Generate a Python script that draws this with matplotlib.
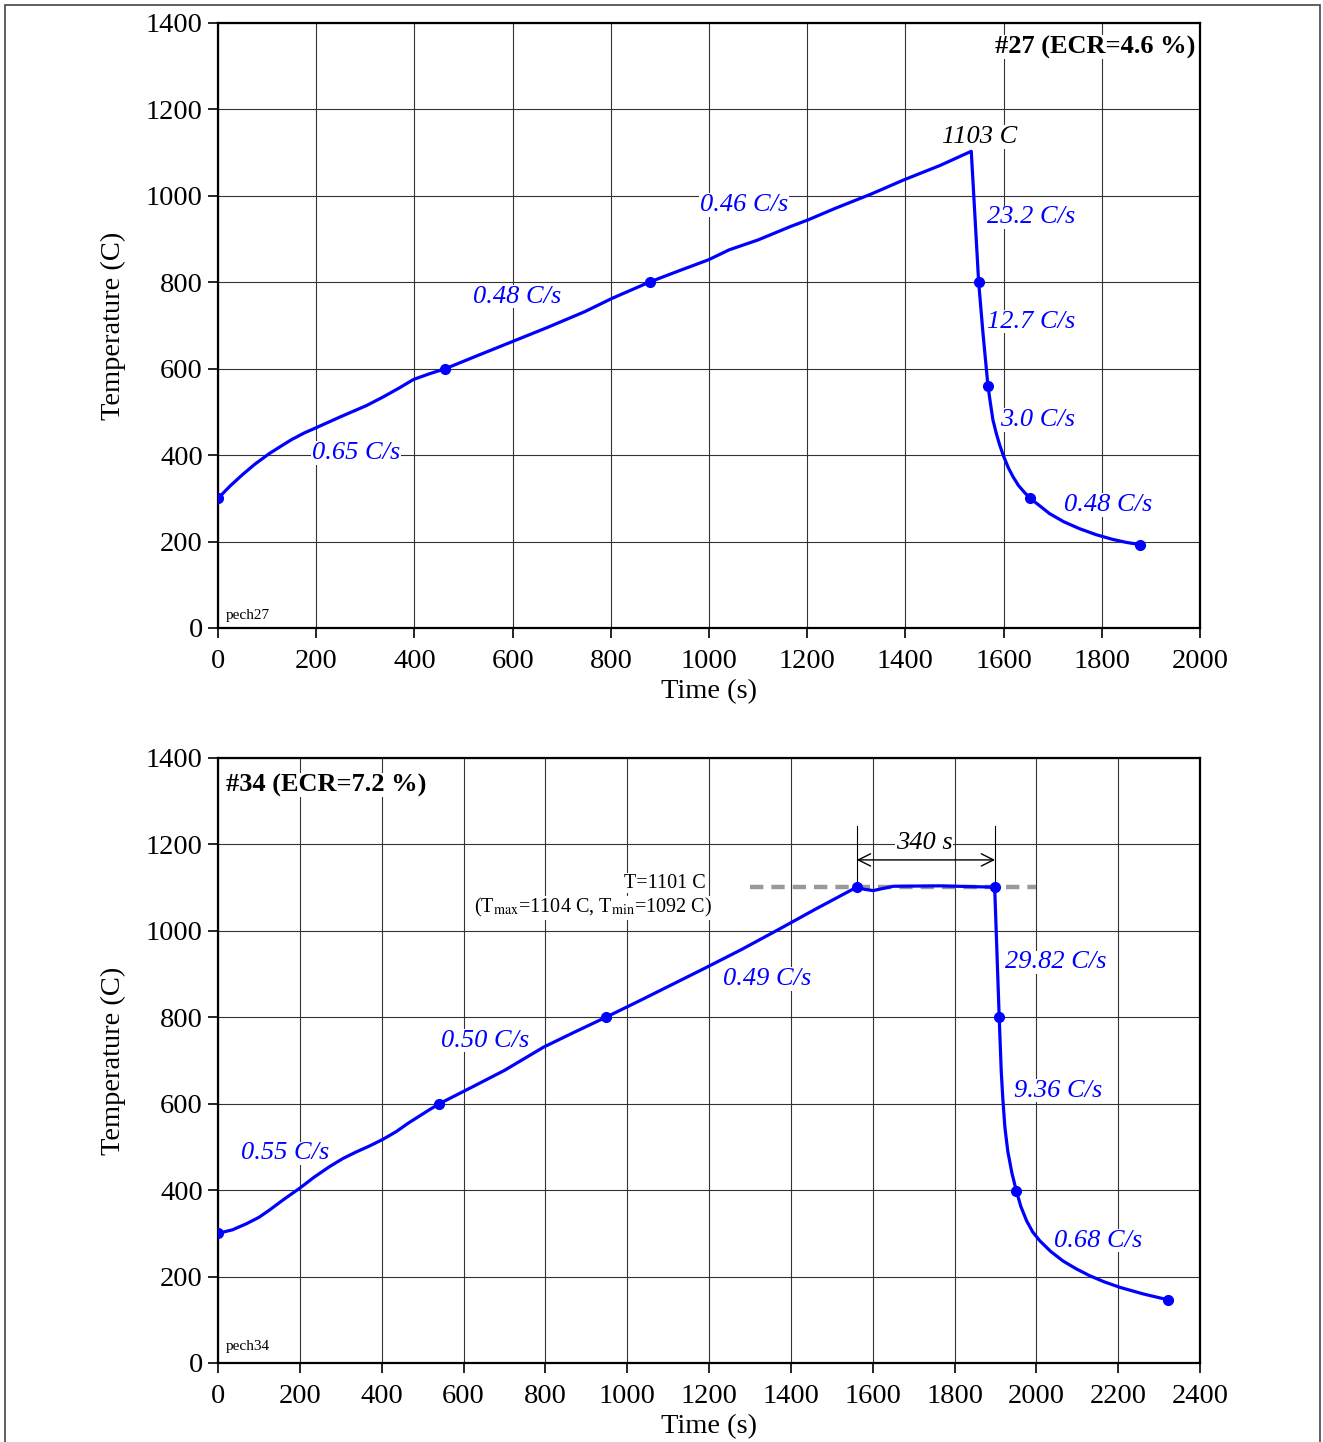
import matplotlib
matplotlib.use("Agg")
import matplotlib.pyplot as plt
from matplotlib.patches import Rectangle

plt.rcParams['font.family'] = ['Liberation Serif', 'DejaVu Serif']
plt.rcParams['mathtext.fontset'] = 'stix'

BLUE = '#0000ff'

# ---- test #27 ----
top_t = [0, 25, 50, 75, 105, 130, 150, 175, 201, 250, 303, 337, 370, 398, 430, 463,
         530, 600, 670, 747, 803, 880, 940, 999, 1041, 1100, 1166, 1201, 1257, 1330,
         1397, 1470, 1534, 1549, 1558, 1568, 1573, 1578, 1585, 1592, 1599, 1609, 1619,
         1630, 1642, 1654, 1672, 1693, 1722, 1754, 1788, 1822, 1850, 1877]
top_T = [300, 329, 355, 379, 404, 422, 436, 451, 464, 489, 515, 535, 556, 575, 588, 600,
         631, 663, 695, 732, 763, 801, 827, 852, 875, 898, 929, 944, 971, 1004,
         1037, 1070, 1103, 801, 680, 560, 520, 482, 450, 423, 400, 372, 350,
         330, 314, 300, 284, 265, 246, 230, 216, 205, 198, 193]
top_mark_t = [0, 463, 880, 1549, 1568, 1654, 1877]
top_mark_T = [300, 600, 800, 800, 560, 300, 193]
top_labels = ['0.65 C/s', '0.48 C/s', '0.46 C/s', '23.2 C/s', '12.7 C/s', '3.0 C/s', '0.48 C/s']
top_label_t = [281, 610, 1072, 1656, 1656, 1668, 1813]
top_label_T = [405, 767, 979, 950, 709, 481, 284]

# ---- test #34 ----
bot_t = [0, 35, 69, 100, 126, 160, 199, 235, 272, 305, 337, 370, 402, 435, 465, 490,
         515, 541, 620, 700, 796, 870, 948, 1030, 1121, 1195, 1280, 1366, 1460, 1561,
         1580, 1601, 1650, 1764, 1850, 1898, 1909, 1914, 1918, 1923, 1930, 1940, 1951,
         1962, 1976, 1991, 2008, 2035, 2065, 2097, 2130, 2165, 2204, 2260, 2322]
bot_T = [300, 308, 322, 337, 354, 378, 404, 430, 454, 473, 488, 502, 517, 535, 555, 570,
         585, 600, 638, 677, 731, 765, 800, 838, 881, 916, 957, 1001, 1050, 1101,
         1096, 1093, 1103, 1104, 1102, 1101, 801, 676, 610, 545, 490, 440, 398,
         362, 329, 303, 283, 258, 236, 218, 202, 188, 175, 160, 146]
bot_mark_t = [0, 541, 948, 1561, 1898, 1909, 1951, 2322]
bot_mark_T = [300, 600, 800, 1101, 1101, 801, 398, 146]
bot_labels = ['0.55 C/s', '0.50 C/s', '0.49 C/s', '29.82 C/s', '9.36 C/s', '0.68 C/s']
bot_label_t = [163, 653, 1341, 2047, 2053, 2151]
bot_label_T = [485, 746, 889, 927, 630, 283]
hold_t = [1300, 2000]
hold_T = [1101, 1101]
hold_start, hold_end = 1561, 1899

fig = plt.figure(figsize=(13.23, 14.42), dpi=100)
fig.patches.append(Rectangle((5 / 1323, -0.01), 1315 / 1323, 1 - 5 / 1442 + 0.01,
                             transform=fig.transFigure, fill=False,
                             edgecolor='#444444', lw=1.2))

ax1 = fig.add_axes([0.1648, 0.5645, 0.7423, 0.4196])
ax2 = fig.add_axes([0.1648, 0.0548, 0.7423, 0.4196])


def style(ax, xmax):
    ax.set_xlim(0, xmax)
    ax.set_ylim(0, 1400)
    ax.set_xticks(range(0, xmax + 1, 200))
    ax.set_yticks(range(0, 1401, 200))
    ax.grid(True, color='#333333', lw=0.8)
    ax.set_axisbelow(True)
    for s in ax.spines.values():
        s.set_linewidth(1.6)
    ax.tick_params(direction='out', length=7, width=1.2, labelsize=20.5, pad=4)
    ax.tick_params(axis='x', pad=8)
    ax.set_xlabel('Time (s)', fontsize=20.5, labelpad=4)
    ax.set_ylabel('Temperature (C)', fontsize=20.5, labelpad=14)


def rate_labels(ax, labels, ts, Ts):
    for lab, t, T in zip(labels, ts, Ts):
        ax.text(t, T, lab, color=BLUE, style='italic', fontsize=19,
                ha='center', va='center', zorder=2.5,
                bbox=dict(facecolor='white', edgecolor='none', pad=0.5))


# top panel
style(ax1, 2000)
ax1.plot(top_t, top_T, color=BLUE, lw=2.3, zorder=3)
ax1.plot(top_mark_t, top_mark_T, 'o', color=BLUE, ms=7, zorder=3)
rate_labels(ax1, top_labels, top_label_t, top_label_T)
ax1.text(1550, 1136, '1103 C', style='italic', fontsize=19, ha='center', va='center',
         zorder=2.5, bbox=dict(facecolor='white', edgecolor='none', pad=0.5))
ax1.text(0.995, 0.960, '#27 (ECR=4.6 %)', transform=ax1.transAxes, fontsize=19,
         fontweight='bold', ha='right', va='center',
         bbox=dict(facecolor='white', edgecolor='none', pad=0.5))
ax1.text(0.008, 0.021, 'pech27', transform=ax1.transAxes, fontsize=11,
         ha='left', va='center')

# bottom panel
style(ax2, 2400)
ax2.plot(hold_t, hold_T, color='#999999', lw=3.2, ls=(0, (3, 1.8)), zorder=2)
ax2.plot(bot_t, bot_T, color=BLUE, lw=2.3, zorder=3)
ax2.plot(bot_mark_t, bot_mark_T, 'o', color=BLUE, ms=7, zorder=3)
rate_labels(ax2, bot_labels, bot_label_t, bot_label_T)
for x in (hold_start, hold_end):
    ax2.plot([x, x], [1101, 1242], color='black', lw=0.8, zorder=2.6)
ax2.annotate('', xy=(hold_end, 1164), xytext=(hold_start, 1164),
             arrowprops=dict(arrowstyle='<->', lw=1.0, color='black',
                             mutation_scale=22, shrinkA=0, shrinkB=0), zorder=2.6)
ax2.text((hold_start + hold_end) / 2 - 5, 1203, '340 s', style='italic', fontsize=19,
         ha='center', va='center', zorder=2.5,
         bbox=dict(facecolor='white', edgecolor='none', pad=0.5))
ax2.text(1192, 1110, 'T=1101 C', fontsize=14.5, ha='right', va='center', zorder=2.5,
         bbox=dict(facecolor='white', edgecolor='none', pad=0.5))
ax2.text(1207, 1053, r'(T$_{\mathrm{max}}$=1104 C, T$_{\mathrm{min}}$=1092 C)',
         fontsize=14.5, ha='right', va='center', zorder=2.5,
         bbox=dict(facecolor='white', edgecolor='none', pad=0.5))
ax2.text(0.008, 0.955, '#34 (ECR=7.2 %)', transform=ax2.transAxes, fontsize=19,
         fontweight='bold', ha='left', va='center',
         bbox=dict(facecolor='white', edgecolor='none', pad=0.5))
ax2.text(0.008, 0.028, 'pech34', transform=ax2.transAxes, fontsize=11,
         ha='left', va='center')

fig.savefig('out.png', dpi=100)
